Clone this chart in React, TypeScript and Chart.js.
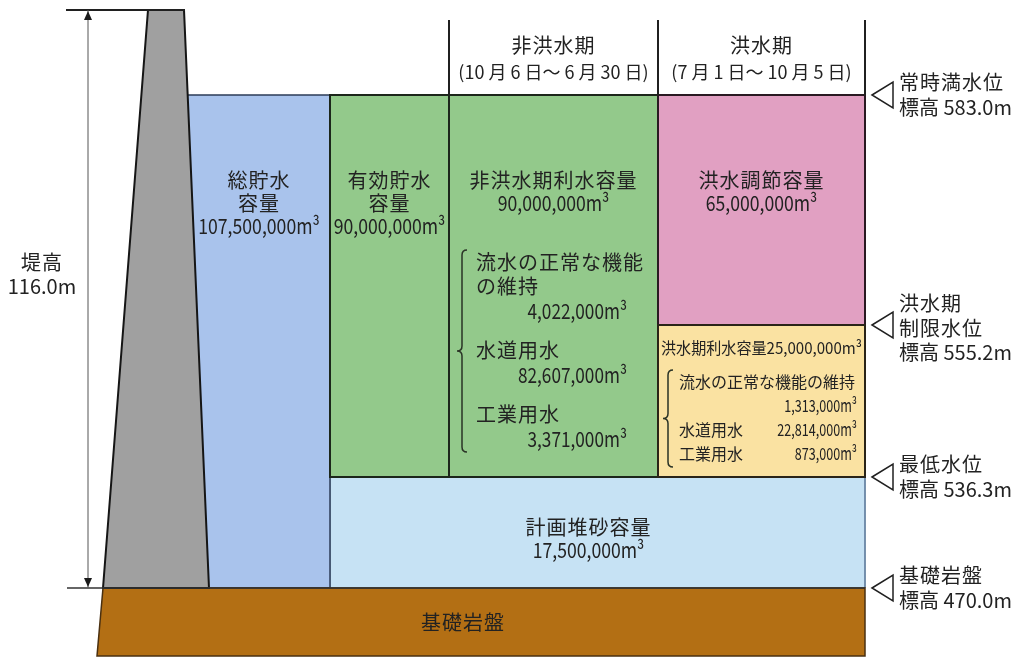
import React, { useEffect, useRef } from "react";
import { Chart, registerables, LinearScale } from "chart.js";

// ---------------- data ----------------
const levelNames: string[][] = [["常時満水位"], ["洪水期", "制限水位"], ["最低水位"], ["基礎岩盤"]];
const levelElevations = [583.0, 555.2, 536.3, 470.0];
const damHeight = 116.0;
const damHeightLabel = "堤高";

const periodNames = ["非洪水期", "洪水期"];
const periodRanges = ["(10 月 6 日～ 6 月 30 日)", "(7 月 1 日～ 10 月 5 日)"];

const zoneLabels: string[][] = [
  ["総貯水", "容量"],
  ["有効貯水", "容量"],
  ["非洪水期利水容量"],
  ["洪水調節容量"],
  ["洪水期利水容量"],
  ["計画堆砂容量"],
];
const zoneVolumes = [107500000, 90000000, 90000000, 65000000, 25000000, 17500000];
const zoneBottoms = [470.0, 536.3, 536.3, 555.2, 536.3, 470.0];
const zoneTops = [583.0, 583.0, 583.0, 583.0, 555.2, 536.3];

const purposeNames = ["流水の正常な機能の維持", "水道用水", "工業用水"];
const nonFloodPurposeVolumes = [4022000, 82607000, 3371000];
const floodPurposeVolumes = [1313000, 22814000, 873000];
const bedrockLabel = "基礎岩盤";

// ---------------- layout (schematic diagram) ----------------
const W = 1015;
const H = 657;
const FONT = "'Noto Sans CJK JP', 'Noto Sans', sans-serif";
const TEXT = "#222222";
const LINE = "#202020";

const zoneLeft = [186, 330, 449, 658, 658, 330];
const zoneRight = [330, 449, 658, 865, 865, 865];
const zoneFill = ["#a9c3ec", "#93c98b", "#93c98b", "#e1a0c2", "#fae2a2", "#c6e2f4"];
const zoneBorder = ["#2d3d57", "#1c261b", "#1c261b", "#2a1a22", "#2a2418", "#6683a2"];
const zoneBorderW = [1.5, 2, 2, 2, 2, 1];
const zoneLabelLeft = [188, 330, 449, 658, 658, 330];
const zoneLabelOffset = [85, 85, 85, 85, 23, 50];
const zoneLabelShift = [0, 0, 0, 0, 0, -9];
const zoneLabelSize = [20, 20, 20, 20, 16, 20];
const periodLeft = [449, 658];
const periodRight = [658, 865];
const DAM = { crestL: 148, crestR: 184, baseL: 103, baseR: 209, lineL: 66, lineR: 185, arrowX: 88 };
const FOUND = { left: 97, right: 865, lineLeft: 67, depthPx: 68, labelX: 463 };
const levelPx = [95, 325, 477, 588];
const crestPx = 10;

// ---------------- schematic elevation scale ----------------
const crestElevation = levelElevations[3] + damHeight;
const stops: [number, number][] = [
  [crestElevation, crestPx],
  ...levelElevations.map((e, i) => [e, levelPx[i]] as [number, number]),
];

function elevToFrac(v: number): number {
  for (let i = 0; i < stops.length - 1; i++) {
    const a = stops[i];
    const b = stops[i + 1];
    if (v >= b[0] || i === stops.length - 2) {
      const t = (a[0] - v) / (a[0] - b[0]);
      return (a[1] + t * (b[1] - a[1])) / H;
    }
  }
  return 0;
}
function fracToElev(f: number): number {
  const p = f * H;
  for (let i = 0; i < stops.length - 1; i++) {
    const a = stops[i];
    const b = stops[i + 1];
    if (p <= b[1] || i === stops.length - 2) {
      const t = (p - a[1]) / (b[1] - a[1]);
      return a[0] + t * (b[0] - a[0]);
    }
  }
  return 0;
}

class SchematicScale extends LinearScale {
  static id = "schematic";
  static defaults = LinearScale.defaults;
  getPixelForValue(value: number) {
    return this.top + elevToFrac(value) * (this.bottom - this.top);
  }
  getValueForPixel(pixel: number) {
    return fracToElev((pixel - this.top) / (this.bottom - this.top));
  }
}

Chart.register(...registerables);
Chart.register(SchematicScale as any);

// dam-height axis (m above bedrock), linear
const pxPerM = (levelPx[3] - crestPx) / damHeight;
const damMin = -(H - levelPx[3]) / pxPerM;
const damMax = damHeight + crestPx / pxPerM;
const foundBottom = -FOUND.depthPx / pxPerM;

const fmt = (v: number) => v.toLocaleString("en-US") + "m³";

function poly(pts: [number, number][]) {
  const all = [...pts, pts[0], pts[1]];
  return all.map(([x, y]) => ({ x, y }));
}
function rect(x0: number, x1: number, y0: number, y1: number) {
  return poly([[x0, y1], [x1, y1], [x1, y0], [x0, y0]]);
}

function buildDatasets() {
  const order = [5, 0, 1, 2, 3, 4];
  const ds: any[] = [];
  order.forEach((i) => {
    ds.push({
      label: zoneLabels[i].join(""),
      data: rect(zoneLeft[i], zoneRight[i], zoneBottoms[i], zoneTops[i]),
      yAxisID: "y",
      fill: "shape",
      backgroundColor: zoneFill[i],
      borderColor: zoneBorder[i],
      borderWidth: zoneBorderW[i],
    });
  });
  ds.push({
    label: bedrockLabel,
    data: poly([[DAM.baseL, 0], [FOUND.right, 0], [FOUND.right, foundBottom], [FOUND.left, foundBottom]]),
    yAxisID: "yDam",
    fill: "shape",
    backgroundColor: "#b36f14",
    borderColor: "#4a3010",
    borderWidth: 1.5,
  });
  ds.push({
    label: "堤体",
    data: poly([[DAM.crestL, damHeight], [DAM.crestR, damHeight], [DAM.baseR, 0], [DAM.baseL, 0]]),
    yAxisID: "yDam",
    fill: "shape",
    backgroundColor: "#a0a0a0",
    borderColor: "#151515",
    borderWidth: 2,
  });
  ds.push({
    label: "基礎岩盤線",
    data: [{ x: FOUND.lineLeft, y: 0 }, { x: FOUND.right, y: 0 }],
    yAxisID: "yDam",
    fill: false,
    borderColor: "#333333",
    borderWidth: 1.5,
  });
  ds.push({
    label: "天端",
    data: [{ x: DAM.lineL, y: damHeight }, { x: DAM.lineR, y: damHeight }],
    yAxisID: "yDam",
    fill: false,
    borderColor: "#202020",
    borderWidth: 2,
  });
  ds.push({
    label: damHeightLabel,
    data: [{ x: DAM.arrowX, y: 0 }, { x: DAM.arrowX, y: damHeight }],
    yAxisID: "yDam",
    fill: false,
    borderColor: "#555555",
    borderWidth: 1,
  });
  const n = ds.length;
  ds.forEach((d, i) => {
    d.order = n - i;
    d.pointRadius = 0;
    d.pointHoverRadius = 0;
    d.tension = 0;
  });
  return ds;
}

function txt(
  ctx: CanvasRenderingContext2D,
  s: string,
  x: number,
  y: number,
  size: number,
  align: CanvasTextAlign = "center",
  maxW?: number,
  spacing = 0,
  cond = 1
) {
  ctx.font = `${size}px ${FONT}`;
  (ctx as any).letterSpacing = `${spacing}px`;
  ctx.textAlign = align;
  ctx.textBaseline = "middle";
  const w = ctx.measureText(s).width;
  let sx = cond;
  if (maxW && w * sx > maxW) sx = maxW / w;
  ctx.save();
  ctx.translate(x, y);
  ctx.scale(sx, 1);
  ctx.fillText(s, 0, 0);
  ctx.restore();
  (ctx as any).letterSpacing = "0px";
  return w * sx;
}

function measure(ctx: CanvasRenderingContext2D, s: string, size: number, cond = 1) {
  ctx.font = `${size}px ${FONT}`;
  return ctx.measureText(s).width * cond;
}

function wrap(ctx: CanvasRenderingContext2D, s: string, size: number, maxW: number) {
  ctx.font = `${size}px ${FONT}`;
  const lines: string[] = [];
  let cur = "";
  for (const ch of s) {
    if (cur && ctx.measureText(cur + ch).width > maxW) {
      lines.push(cur);
      cur = ch;
    } else cur += ch;
  }
  if (cur) lines.push(cur);
  return lines;
}

function brace(ctx: CanvasRenderingContext2D, x: number, top: number, bottom: number, tip: number) {
  const mid = (top + bottom) / 2;
  const r = 5;
  ctx.beginPath();
  ctx.moveTo(x + r, top);
  ctx.quadraticCurveTo(x, top, x, top + r);
  ctx.lineTo(x, mid - r);
  ctx.quadraticCurveTo(x, mid, x - tip, mid);
  ctx.quadraticCurveTo(x, mid, x, mid + r);
  ctx.lineTo(x, bottom - r);
  ctx.quadraticCurveTo(x, bottom, x + r, bottom);
  ctx.stroke();
}

const textPlugin = {
  id: "damText",
  afterDatasetsDraw(chart: any) {
    const ctx: CanvasRenderingContext2D = chart.ctx;
    const xs = chart.scales.x;
    const ys = chart.scales.y;
    const yd = chart.scales.yDam;
    const X = (v: number) => xs.getPixelForValue(v);
    const Y = (v: number) => ys.getPixelForValue(v);
    const YD = (v: number) => yd.getPixelForValue(v);
    ctx.save();
    ctx.fillStyle = TEXT;
    ctx.strokeStyle = LINE;

    // header separators
    const topY = Y(levelElevations[0]);
    ctx.lineWidth = 2;
    [periodLeft[0], periodLeft[1], periodRight[1]].forEach((x) => {
      ctx.beginPath();
      ctx.moveTo(X(x), topY - 75);
      ctx.lineTo(X(x), topY);
      ctx.stroke();
    });
    periodNames.forEach((n, i) => {
      const cx = (X(periodLeft[i]) + X(periodRight[i])) / 2;
      txt(ctx, n, cx, topY - 50, 20, "center", undefined, 1);
      txt(ctx, periodRanges[i], cx, topY - 23, 18, "center", X(periodRight[i]) - X(periodLeft[i]) - 14);
    });

    // zone labels
    zoneLabels.forEach((lab, i) => {
      const cx = (X(zoneLabelLeft[i]) + X(zoneRight[i])) / 2 + zoneLabelShift[i];
      const y0 = Y(zoneTops[i]) + zoneLabelOffset[i];
      const width = X(zoneRight[i]) - X(zoneLabelLeft[i]);
      if (zoneLabelSize[i] < 20) {
        txt(ctx, lab.join("") + fmt(zoneVolumes[i]), cx, y0, zoneLabelSize[i], "center", width - 6);
      } else {
        lab.forEach((l, k) => txt(ctx, l, cx, y0 + k * 23, 20, "center", width - 4, 1));
        txt(ctx, fmt(zoneVolumes[i]), cx, y0 + lab.length * 23, 21, "center", width - 4, 0, 0.84);
      }
    });

    // purpose breakdowns
    const lists = [
      { vols: nonFloodPurposeVolumes, left: X(449) + 27, right: X(658) - 31, wrapW: X(658) - 8 - (X(449) + 27), first: Y(583) + 167, size: 20, numSize: 21, cond: 0.82, spacing: 1, step: 24.5, gap: 15, braceX: X(449) + 13 },
      { vols: floodPurposeVolumes, left: X(658) + 21, right: X(865) - 8, wrapW: X(865) - 8 - (X(658) + 21), first: Y(555.2) + 57, size: 16, numSize: 17, cond: 0.74, spacing: 0, step: 24, gap: 0, braceX: X(658) + 10 },
    ];
    lists.forEach((L) => {
      let y = L.first;
      let lastY = y;
      const avail = L.right - L.left;
      purposeNames.forEach((name, i) => {
        const lines = wrap(ctx, name, L.size, L.wrapW);
        lines.forEach((l, k) => {
          txt(ctx, l, L.left, y, L.size, "left", undefined, L.spacing);
          if (k < lines.length - 1) y += L.step;
        });
        const num = fmt(L.vols[i]);
        const lw = measure(ctx, lines[lines.length - 1], L.size);
        const nw = measure(ctx, num, L.numSize, L.cond);
        if (lines.length > 1 || lw + 12 + nw > avail) y += L.step;
        txt(ctx, num, L.right, y, L.numSize, "right", undefined, 0, L.cond);
        lastY = y;
        y += L.step + L.gap;
      });
      ctx.lineWidth = 1.5;
      ctx.strokeStyle = "#2a3326";
      brace(ctx, L.braceX, L.first - 12, lastY + 13, 5);
    });

    // level markers on the right
    ctx.strokeStyle = LINE;
    ctx.lineWidth = 1.5;
    levelElevations.forEach((e, i) => {
      const py = Y(e);
      const tx = X(865) + 7;
      ctx.beginPath();
      ctx.moveTo(tx, py);
      ctx.lineTo(tx + 21, py - 13);
      ctx.lineTo(tx + 21, py + 13);
      ctx.closePath();
      ctx.stroke();
      const lines = [...levelNames[i], `標高 ${e.toFixed(1)}m`];
      const c = py + (lines.length - 2) * 3;
      lines.forEach((l, k) => {
        txt(ctx, l, X(865) + 34, c + (k - (lines.length - 1) / 2) * 24.5, 20, "left", undefined, k < lines.length - 1 ? 1 : 0);
      });
    });

    // dam height arrow heads and label
    const ax = X(DAM.arrowX);
    const yTop = YD(damHeight);
    const yBot = YD(0);
    ctx.fillStyle = "#1a1a1a";
    ctx.beginPath();
    ctx.moveTo(ax, yTop + 1);
    ctx.lineTo(ax - 4, yTop + 10);
    ctx.lineTo(ax + 4, yTop + 10);
    ctx.closePath();
    ctx.fill();
    ctx.beginPath();
    ctx.moveTo(ax, yBot - 1);
    ctx.lineTo(ax - 4, yBot - 10);
    ctx.lineTo(ax + 4, yBot - 10);
    ctx.closePath();
    ctx.fill();
    ctx.fillStyle = TEXT;
    const mid = (yTop + yBot) / 2 - 25;
    txt(ctx, damHeightLabel, ax - 46, mid - 12, 20, "center", undefined, 1);
    txt(ctx, `${damHeight.toFixed(1)}m`, ax - 46, mid + 12, 20, "center");

    // bedrock label
    txt(ctx, bedrockLabel, X(FOUND.labelX), (YD(0) + YD(foundBottom)) / 2, 20, "center", undefined, 1);

    ctx.restore();
  },
};

export default function App() {
  const ref = useRef<HTMLCanvasElement>(null);
  useEffect(() => {
    if (!ref.current) return;
    const chart = new Chart(ref.current, {
      type: "line",
      data: { datasets: buildDatasets() },
      options: {
        responsive: false,
        animation: false,
        events: [],
        layout: { padding: 0 },
        plugins: { legend: { display: false }, tooltip: { enabled: false }, title: { display: false } },
        scales: {
          x: { type: "linear", min: 0, max: W, display: false },
          y: { type: "schematic", min: 440, max: 600, display: false } as any,
          yDam: { type: "linear", min: damMin, max: damMax, display: false, position: "right" },
        },
      },
      plugins: [textPlugin],
    } as any);
    return () => chart.destroy();
  }, []);
  return (
    <div style={{ position: "absolute", left: 0, top: 0, width: W, height: H, background: "#fff" }}>
      <canvas ref={ref} width={W} height={H} style={{ display: "block", width: W, height: H }} />
    </div>
  );
}
